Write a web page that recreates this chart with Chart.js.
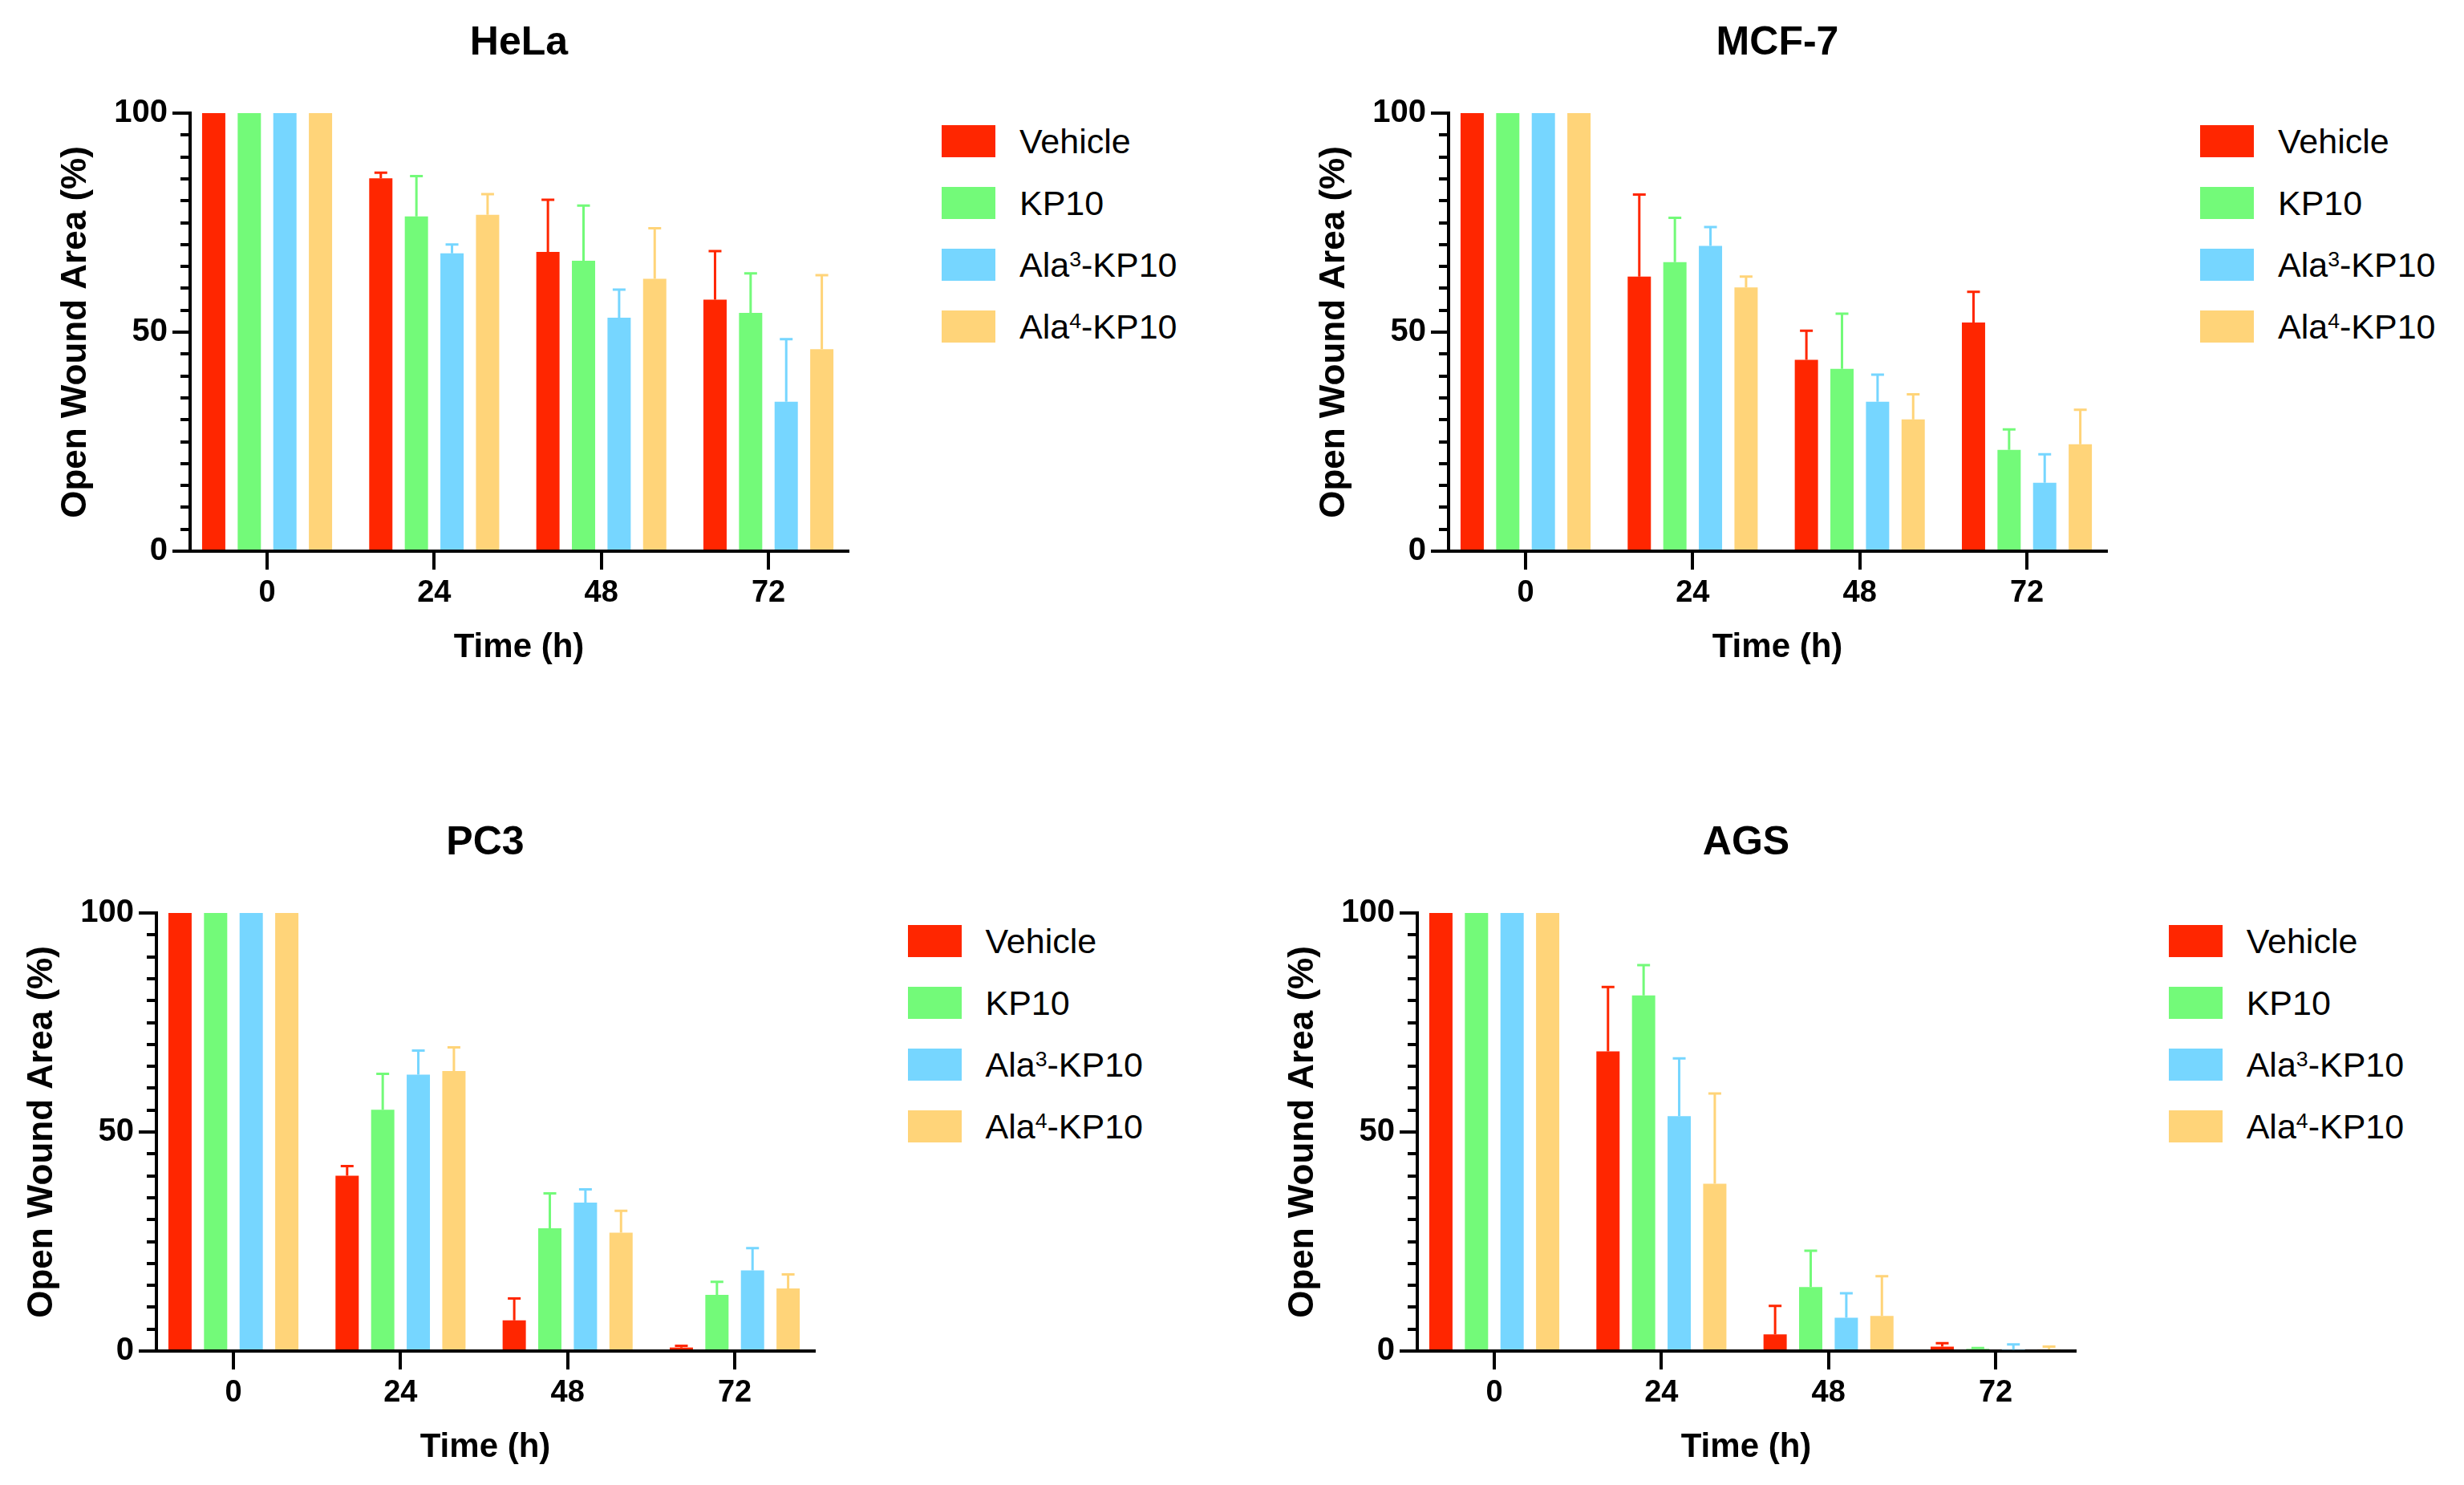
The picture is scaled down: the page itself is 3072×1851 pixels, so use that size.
<!DOCTYPE html>
<html>
<head>
<meta charset="utf-8">
<title>Open wound area</title>
<script src="https://cdn.jsdelivr.net/npm/chart.js@4.4.0/dist/chart.umd.min.js"></script>
<style>
  html, body { margin: 0; padding: 0; background: #fff; }
  body { width: 3072px; height: 1851px; position: relative; overflow: hidden;
         font-family: 'Liberation Sans', Arial, Helvetica, sans-serif; }
  .panel { position: absolute; }
  .legend { position: absolute; }
  .legend .item { display: flex; align-items: center; height: 40px; margin-bottom: 37px; }
  .legend .box { width: 67px; height: 40px; margin-right: 30px; flex: none; }
  .legend .txt { font-size: 43px; color: #000; white-space: nowrap; line-height: 1; }
  .legend sup { font-size: 0.62em; vertical-align: 13px; line-height: 0; }
</style>
</head>
<body>
<script>
// ─── DATA ─────────────────────────────────────────────────────────
const timePoints   = [0, 24, 48, 72];
const seriesNames  = ['Vehicle', 'KP10', 'Ala³-KP10', 'Ala⁴-KP10'];
const seriesColors = ['#FF2600', '#73FA79', '#76D6FF', '#FFD479'];
const yLabelTicks  = [0, 50, 100];

// rows: Vehicle, KP10, Ala3-KP10, Ala4-KP10 ; columns: 0, 24, 48, 72 h
const helaMean = [
    [100, 85.1, 68.3, 57.4],
    [100, 76.4, 66.3, 54.4],
    [100, 68.0, 53.3, 34.1],
    [100, 76.8, 62.2, 46.1]
];
const helaSd = [
    [0, 1.3, 11.9, 11.1],
    [0, 9.2, 12.6, 9.0],
    [0, 2.0, 6.4, 14.3],
    [0, 4.7, 11.5, 16.9]
];

const mcfMean = [
    [100, 62.7, 43.7, 52.2],
    [100, 66.0, 41.6, 23.1],
    [100, 69.7, 34.1, 15.6],
    [100, 60.2, 30.1, 24.4]
];
const mcfSd = [
    [0, 18.7, 6.6, 7.0],
    [0, 10.1, 12.6, 4.7],
    [0, 4.3, 6.2, 6.5],
    [0, 2.5, 5.7, 7.9]
];

const pc3Mean = [
    [100, 40.0, 7.0, 0.8],
    [100, 55.1, 28.0, 12.8],
    [100, 63.1, 33.9, 18.4],
    [100, 63.9, 27.0, 14.3]
];
const pc3Sd = [
    [0, 2.2, 5.0, 0.4],
    [0, 8.2, 8.0, 3.0],
    [0, 5.5, 3.0, 5.1],
    [0, 5.4, 5.0, 3.2]
];

const agsMean = [
    [100, 68.4, 3.8, 1.0],
    [100, 81.2, 14.6, 0.5],
    [100, 53.6, 7.6, 0.3],
    [100, 38.2, 8.0, 0.4]
];
const agsSd = [
    [0, 14.7, 6.5, 0.8],
    [0, 6.9, 8.3, 0.2],
    [0, 13.2, 5.6, 1.2],
    [0, 20.6, 9.1, 0.6]
];

// ─── LAYOUT ───────────────────────────────────────────────────────
const panels = [
    { title: 'HeLa',  mean: helaMean, sd: helaSd, left: 0,      top: 0   },
    { title: 'MCF-7', mean: mcfMean,  sd: mcfSd,  left: 1569,   top: 0   },
    { title: 'PC3',   mean: pc3Mean,  sd: pc3Sd,  left: -42.5,  top: 997 },
    { title: 'AGS',   mean: agsMean,  sd: agsSd,  left: 1529.7, top: 997 }
];

const CANVAS_W = 1080, CANVAS_H = 860;
const Y_AXIS_W = 237;      // chart area starts here
const X_AXIS_H = 173;
const X_MIN = -11.06, X_MAX = 83.4;
const X_AXIS_STUB = 22;    // x axis runs a little past the y axis, GraphPad style

Chart.defaults.font.family = "'Liberation Sans', Arial, Helvetica, sans-serif";
Chart.defaults.color = '#000';

// ─── ERROR BARS (upper only) ──────────────────────────────────────
const errorBars = {
    id: 'errorBars',
    afterDatasetsDraw(chart) {
        const ctx = chart.ctx;
        const yScale = chart.scales.y;
        chart.data.datasets.forEach((ds, di) => {
            const meta = chart.getDatasetMeta(di);
            meta.data.forEach((bar, i) => {
                const sd = ds.sd[i];
                if (!sd) return;
                const top = yScale.getPixelForValue(ds.data[i].y + sd);
                ctx.save();
                ctx.strokeStyle = ds.backgroundColor;
                ctx.lineWidth = 3;
                ctx.beginPath();
                ctx.moveTo(bar.x, bar.y);
                ctx.lineTo(bar.x, top);
                ctx.moveTo(bar.x - 8, top);
                ctx.lineTo(bar.x + 8, top);
                ctx.stroke();
                ctx.restore();
            });
        });
    }
};

// short extension of the x axis line to the left of the y axis
const axisStub = {
    id: 'axisStub',
    afterDraw(chart) {
        const ctx = chart.ctx;
        const x = chart.scales.x;
        ctx.save();
        ctx.strokeStyle = '#000';
        ctx.lineWidth = 4;
        ctx.beginPath();
        ctx.moveTo(x.left - X_AXIS_STUB, x.top);
        ctx.lineTo(x.left, x.top);
        ctx.stroke();
        ctx.restore();
    }
};

function buildLegend(left, top) {
    const box = document.createElement('div');
    box.className = 'legend';
    box.style.left = left + 'px';
    box.style.top = top + 'px';
    const sup = { '³': '3', '⁴': '4' };
    seriesNames.forEach((name, i) => {
        const item = document.createElement('div');
        item.className = 'item';
        const sw = document.createElement('span');
        sw.className = 'box';
        sw.style.background = seriesColors[i];
        const txt = document.createElement('span');
        txt.className = 'txt';
        txt.innerHTML = name.replace(/[³⁴]/g, c => '<sup>' + sup[c] + '</sup>');
        item.appendChild(sw);
        item.appendChild(txt);
        box.appendChild(item);
    });
    document.body.appendChild(box);
}

function buildPanel(p) {
    const cv = document.createElement('canvas');
    cv.width = CANVAS_W;
    cv.height = CANVAS_H;
    cv.className = 'panel';
    cv.style.left = p.left + 'px';
    cv.style.top = p.top + 'px';
    document.body.appendChild(cv);

    const datasets = seriesNames.map((name, s) => ({
        label: name,
        data: timePoints.map((t, i) => ({ x: t, y: p.mean[s][i] })),
        sd: p.sd[s],
        backgroundColor: seriesColors[s],
        borderWidth: 0,
        categoryPercentage: 0.852,
        barPercentage: 0.653
    }));

    new Chart(cv, {
        type: 'bar',
        data: { datasets },
        plugins: [errorBars, axisStub],
        options: {
            responsive: false,
            devicePixelRatio: 1,
            animation: false,
            layout: { padding: { left: 0, right: CANVAS_W - 1057, top: 0, bottom: 0 } },
            plugins: {
                legend: { display: false },
                tooltip: { enabled: false },
                title: {
                    display: true, text: p.title, fullSize: false, color: '#000',
                    font: { size: 50, weight: 'bold' },
                    padding: { top: 24, bottom: 57 }
                }
            },
            scales: {
                x: {
                    type: 'linear', min: X_MIN, max: X_MAX, offset: false,
                    afterBuildTicks: s => { s.ticks = timePoints.map(v => ({ value: v })); },
                    afterFit: s => { s.height = X_AXIS_H; },
                    ticks: { font: { size: 38, weight: 'bold' }, color: '#000', padding: 7,
                             maxRotation: 0, autoSkip: false, callback: v => String(v) },
                    grid: { offset: false, drawOnChartArea: false, tickLength: 23, tickWidth: 4,
                            tickColor: '#000', lineWidth: 4, color: '#000' },
                    border: { color: '#000', width: 4 },
                    title: { display: true, text: 'Time (h)', color: '#000',
                             font: { size: 42, weight: 'bold' }, padding: { top: 0, bottom: 27.8 } }
                },
                y: {
                    min: 0, max: 100,
                    afterFit: s => { s.width = Y_AXIS_W; },
                    ticks: { stepSize: 5, autoSkip: false, font: { size: 40, weight: 'bold' },
                             color: '#000', padding: 6,
                             callback: v => yLabelTicks.includes(v) ? String(v) : '' },
                    grid: { drawOnChartArea: false, tickLength: 22, tickWidth: 4, tickColor: '#000',
                            lineWidth: 4, color: '#000',
                            tickBorderDash: c => (c.tick && !yLabelTicks.includes(c.tick.value)) ? [0, 10, 100] : [] },
                    border: { color: '#000', width: 4 },
                    title: { display: true, text: 'Open Wound Area (%)', color: '#000',
                             font: { size: 44, weight: 'bold' }, padding: { top: 68.6, bottom: 0 } }
                }
            }
        }
    });

    buildLegend(p.left + 1174, p.top + 156);
}

panels.forEach(buildPanel);
</script>
</body>
</html>
